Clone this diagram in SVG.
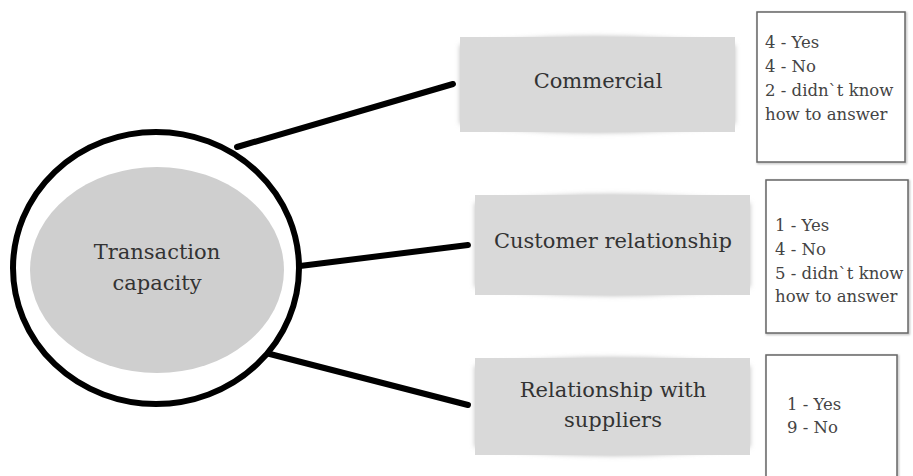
<svg xmlns="http://www.w3.org/2000/svg" width="913" height="476" viewBox="0 0 913 476">
  <defs>
    <filter id="blur" x="-10%" y="-30%" width="120%" height="160%">
      <feGaussianBlur stdDeviation="2.5"/>
    </filter>
    <filter id="bshadow" x="-10%" y="-10%" width="120%" height="120%">
      <feGaussianBlur stdDeviation="1"/>
    </filter>
  </defs>
  <style>
    .topic { fill: #d9d9d9; }
    .pillow { fill: #bdbdbd; filter: url(#blur); }
    .lbl { font-family: 'DejaVu Serif', serif; font-size: 21px; fill: #333; text-anchor: middle; }
    .ans { font-family: 'DejaVu Serif', serif; font-size: 16.5px; fill: #444; }
    .abox { fill: #fff; stroke: #666; stroke-width: 1.5; }
    .ashadow { fill: none; stroke: #bbb; stroke-width: 2; filter: url(#bshadow); }
    .conn { stroke: #000; stroke-width: 6; stroke-linecap: round; fill: none; }
  </style>
  <rect width="913" height="476" fill="#fff"/>

  <g id="connectors">
    <line class="conn" x1="237" y1="147" x2="453" y2="84"/>
    <line class="conn" x1="300" y1="266" x2="468" y2="245"/>
    <line class="conn" x1="266" y1="353" x2="468" y2="405"/>
  </g>

  <g id="node-transaction">
    <ellipse cx="156" cy="268" rx="143" ry="136" fill="#fff" stroke="#000" stroke-width="6"/>
    <ellipse cx="157" cy="270" rx="127" ry="103" fill="#cfcfcf"/>
    <text class="lbl" x="157" y="259">Transaction</text>
    <text class="lbl" x="157" y="290">capacity</text>
  </g>

  <g id="node-commercial">
    <path class="pillow" d="M460,45 Q597,28 735,45 L735,124 Q597,141 460,124 Z"/>
    <rect class="topic" x="460" y="37" width="275" height="95"/>
    <text class="lbl" x="598" y="88">Commercial</text>
  </g>

  <g id="node-customer">
    <path class="pillow" d="M475,203 Q612,186 750,203 L750,287 Q612,304 475,287 Z"/>
    <rect class="topic" x="475" y="195" width="275" height="100"/>
    <text class="lbl" x="613" y="248">Customer relationship</text>
  </g>

  <g id="node-suppliers">
    <path class="pillow" d="M475,366 Q612,349 750,366 L750,447 Q612,464 475,447 Z"/>
    <rect class="topic" x="475" y="358" width="275" height="97"/>
    <text class="lbl" x="613" y="397">Relationship with</text>
    <text class="lbl" x="613" y="427">suppliers</text>
  </g>

  <g id="answers-commercial">
    <rect class="ashadow" x="758" y="13" width="148" height="150"/>
    <rect class="abox" x="757" y="12" width="148" height="150"/>
    <text class="ans" x="765" y="48">4 - Yes</text>
    <text class="ans" x="765" y="72">4 - No</text>
    <text class="ans" x="765" y="96">2 - didn`t know</text>
    <text class="ans" x="765" y="120">how to answer</text>
  </g>

  <g id="answers-customer">
    <rect class="ashadow" x="767" y="181" width="142" height="153"/>
    <rect class="abox" x="766" y="180" width="142" height="153"/>
    <text class="ans" x="775" y="231">1 - Yes</text>
    <text class="ans" x="775" y="255">4 - No</text>
    <text class="ans" x="775" y="279">5 - didn`t know</text>
    <text class="ans" x="775" y="302">how to answer</text>
  </g>

  <g id="answers-suppliers">
    <rect class="ashadow" x="767" y="356" width="131" height="125"/>
    <rect class="abox" x="766" y="355" width="131" height="125"/>
    <text class="ans" x="787" y="410">1 - Yes</text>
    <text class="ans" x="787" y="433">9 - No</text>
  </g>
</svg>
